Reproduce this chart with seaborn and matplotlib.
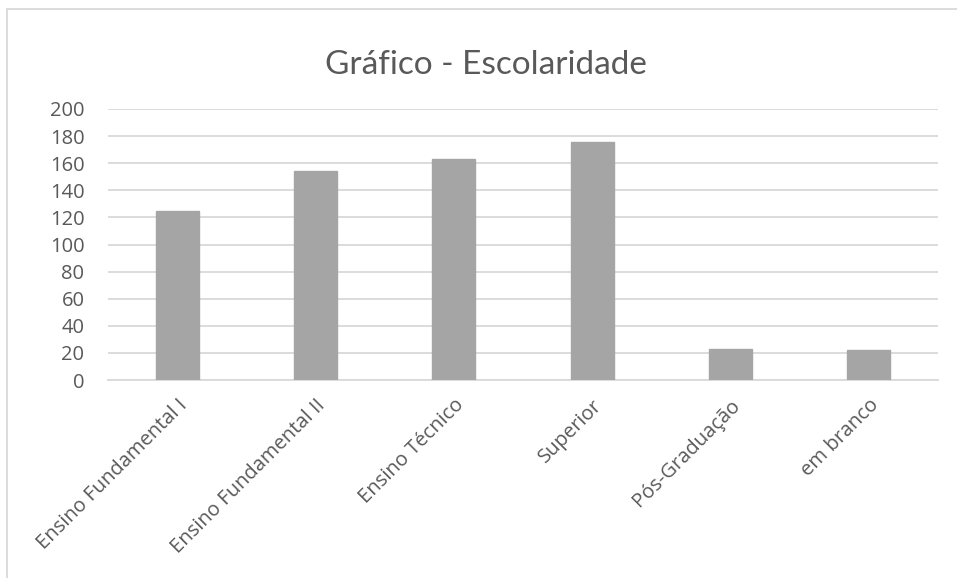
import matplotlib
matplotlib.use("Agg")
import matplotlib.pyplot as plt
import seaborn as sns
import pandas as pd
from matplotlib.patches import Rectangle

categories = ["Ensino Fundamental I", "Ensino Fundamental II", "Ensino Técnico",
              "Superior", "Pós-Graduação", "em branco"]
values = [125, 154, 163, 176, 23, 22]
yticks = [0, 20, 40, 60, 80, 100, 120, 140, 160, 180, 200]
title = "Gráfico - Escolaridade"

sns.set_theme(style="white")
plt.rcParams['font.family'] = ['Open Sans', 'DejaVu Sans']

W, H = 957, 578
fig = plt.figure(figsize=(W / 100, H / 100), dpi=100)
ax = fig.add_axes([108 / W, 1 - 380 / H, (938 - 108) / W, (380 - 109) / H])

df = pd.DataFrame({"cat": categories, "val": values})
sns.barplot(data=df, x="cat", y="val", color="#a5a5a5", width=0.31, ax=ax,
            saturation=1, edgecolor="#a5a5a5", zorder=3)

ax.set_ylim(0, 200)
ax.set_xlim(-0.5, len(categories) - 0.5)
ax.set_yticks(yticks)
ax.set_yticklabels([str(t) for t in yticks], fontsize=14.5, color="#595959")
ax.yaxis.grid(True, color="#d9d9d9", linewidth=1.3, zorder=0)
ax.xaxis.grid(False)
for s in ["top", "right", "left"]:
    ax.spines[s].set_visible(False)
ax.spines["bottom"].set_color("#d9d9d9")
ax.spines["bottom"].set_linewidth(1.3)
ax.tick_params(axis="y", length=0, pad=17)
ax.tick_params(axis="x", length=0, pad=11)
ax.set_xlabel("")
ax.set_ylabel("")
ax.set_xticks(range(len(categories)))
ax.set_xticklabels(categories, rotation=45, ha="right", rotation_mode="anchor",
                   fontsize=14.5, color="#595959")

fig.text(486 / W, 1 - 74 / H, title, ha="center", va="baseline", fontsize=24,
         color="#595959", family=['Lato', 'DejaVu Sans'])

fig.patches.append(Rectangle((7 / W, -0.1), 2.0, (1 - 9 / H) + 0.1,
                             transform=fig.transFigure, fill=False,
                             edgecolor="#d9d9d9", linewidth=1.3))

fig.savefig("out.png", dpi=100)
